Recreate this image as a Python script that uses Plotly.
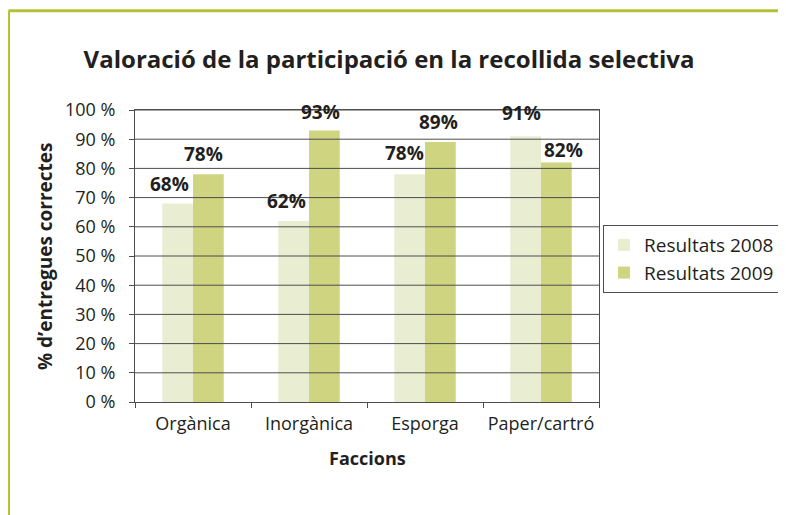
import plotly.graph_objects as go

categories = ["Orgànica", "Inorgànica", "Esporga", "Paper/cartró"]
series_names = ["Resultats 2008", "Resultats 2009"]
values_2008 = [68, 62, 78, 91]
values_2009 = [78, 93, 89, 82]
y_ticks = [0, 10, 20, 30, 40, 50, 60, 70, 80, 90, 100]

title_text = "Valoració de la participació en la recollida selectiva"
y_title = "% d’entregues correctes"
x_title = "Faccions"

# styling
col_2008 = "#e9eed3"
col_2009 = "#cfd481"
grid_col = "#4d4d4d"
text_col = "#231f20"
frame_col = "#b5c234"
font_body = "Open Sans"
# per-label fine placement (pixels): (dx, dy) relative to bar centre / bar top
label_offsets_2008 = [(-9, 19), (-8, 20), (-6, 21), (-5, 23)]
label_offsets_2009 = [(-5, 20), (-4, 18), (-2, 20), (7, 13)]
bar_half = 15

# page body has an 8px margin in the browser, so figure coords = screen - 8
L, R, T, B = 127, 786 - 591, 102, 515 - 394
PW, PH = 591 - 127, 394 - 102

def px(x):
    return (x - L) / PW

def py(y):
    return (T + PH - y) / PH

fig = go.Figure()
fig.add_trace(go.Bar(name=series_names[0], x=categories, y=values_2008,
                     marker=dict(color=col_2008, line=dict(width=0))))
fig.add_trace(go.Bar(name=series_names[1], x=categories, y=values_2009,
                     marker=dict(color=col_2009, line=dict(width=0))))

annotations = []
for vals, offs, side in ((values_2008, label_offsets_2008, -1), (values_2009, label_offsets_2009, 1)):
    for c, v, (dx, dy) in zip(categories, vals, offs):
        annotations.append(dict(x=c, y=v, xref="x", yref="y", text=f"<b>{v}%</b>",
                                showarrow=False, xshift=side * bar_half + dx, yshift=dy,
                                xanchor="center", yanchor="middle",
                                font=dict(family=font_body, size=19, color=text_col)))

# axis titles as annotations for precise placement
annotations.append(dict(x=px(37), y=0.5, xref="paper", yref="paper", text=f"<b>{y_title}</b>",
                        textangle=-90, showarrow=False, xanchor="center", yanchor="middle",
                        font=dict(family=font_body, size=19, color=text_col)))
annotations.append(dict(x=0.5, y=py(450), xref="paper", yref="paper", text=f"<b>{x_title}</b>",
                        showarrow=False, xanchor="center", yanchor="middle",
                        font=dict(family=font_body, size=18, color=text_col)))

shapes = []
for t in y_ticks[1:]:
    shapes.append(dict(type="line", xref="paper", yref="y", x0=0, x1=1, y0=t, y1=t,
                       line=dict(color=grid_col, width=1), layer="above"))
# outer frame (top and left lines)
shapes.append(dict(type="line", xref="paper", yref="paper", x0=px(0.5), x1=px(800), y0=py(2.7), y1=py(2.7),
                   line=dict(color=frame_col, width=3)))
shapes.append(dict(type="line", xref="paper", yref="paper", x0=px(0.5), x1=px(0.5), y0=py(2.7), y1=py(520),
                   line=dict(color=frame_col, width=3)))

fig.update_layout(
    width=786, height=515, autosize=False,
    margin=dict(l=L, r=R, t=T, b=B, autoexpand=False),
    paper_bgcolor="white", plot_bgcolor="white",
    barmode="group", bargap=0.47, bargroupgap=0,
    title=dict(text=f"<b>{title_text}</b>", x=(389 - 8) / 786, xanchor="center",
               y=1 - 52 / 515, yanchor="middle", xref="container", yref="container",
               font=dict(family=font_body, size=24, color=text_col)),
    legend=dict(x=px(595), y=py(217), xanchor="left", yanchor="top", bordercolor=grid_col, borderwidth=1,
                font=dict(family=font_body, size=19, color=text_col), bgcolor="white",
                itemsizing="constant", tracegroupgap=2),
    annotations=annotations,
    shapes=shapes,
    showlegend=True,
)
fig.update_yaxes(range=[0, 100], tickvals=y_ticks, ticktext=[f"{t} %" for t in y_ticks],
                 showgrid=False, zeroline=False, showline=True, linecolor=grid_col, linewidth=1,
                 mirror=True, ticks="outside", ticklen=5, tickcolor=grid_col,
                 ticklabelstandoff=10,
                 tickfont=dict(family=font_body, size=18, color=text_col), automargin=False)
fig.update_xaxes(showgrid=False, showline=True, linecolor=grid_col, linewidth=1, mirror=True,
                 ticks="outside", ticklen=5, tickcolor=grid_col, tickson="boundaries",
                 ticklabelstandoff=5,
                 tickfont=dict(family=font_body, size=18, color=text_col), automargin=False)

fig.write_html("out.html")
